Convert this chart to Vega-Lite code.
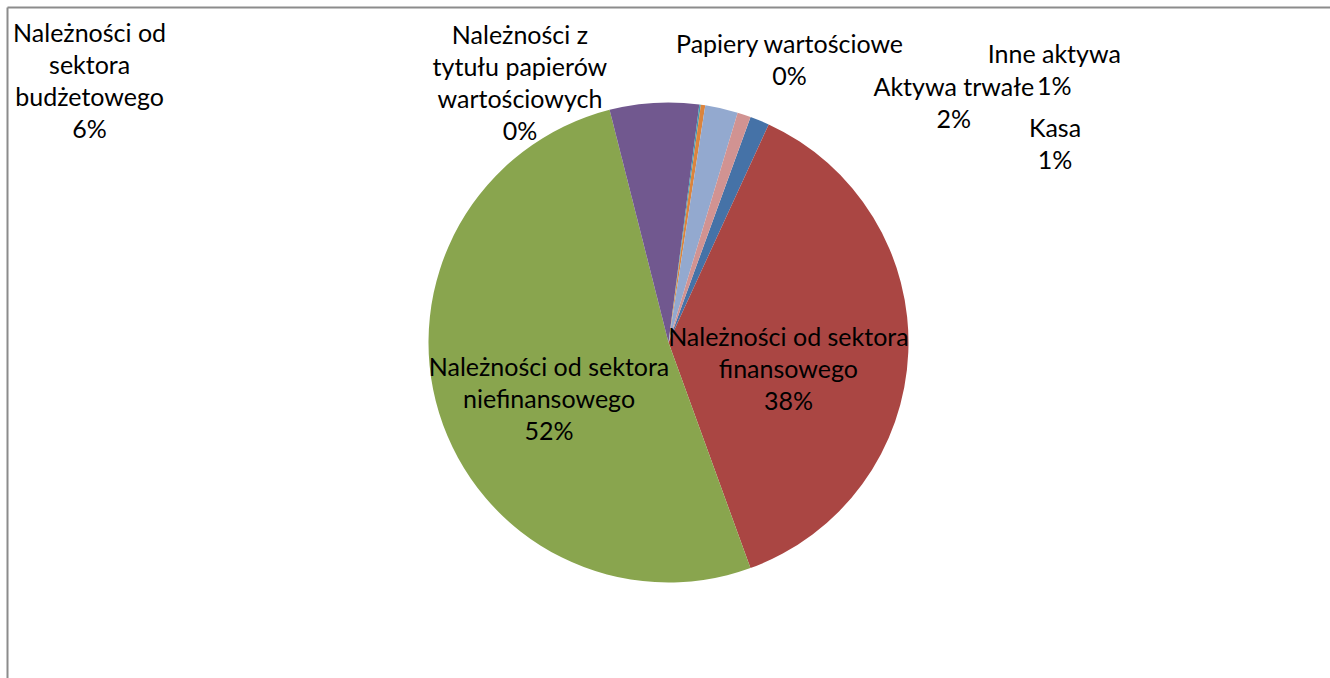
{
  "$schema": "https://vega.github.io/schema/vega-lite/v6.json",
  "width": 1323,
  "height": 671,
  "autosize": {"type": "none"},
  "padding": {"left": 7, "top": 7, "right": 0, "bottom": 0},
  "background": "white",
  "config": {"view": {"stroke": null}, "text": {"font": "Lato", "fontSize": 25, "lineHeight": 32, "lineBreak": "\n", "color": "#000000", "align": "center", "baseline": "middle"}},
  "data": {"values": [
    {"k": "Kasa", "value": 1.3, "ord": 1, "label": "Kasa\n1%"},
    {"k": "Należności od sektora finansowego", "value": 37.6, "ord": 2, "label": "Należności od sektora\nfinansowego\n38%"},
    {"k": "Należności od sektora niefinansowego", "value": 51.6, "ord": 3, "label": "Należności od sektora\nniefinansowego\n52%"},
    {"k": "Należności od sektora budżetowego", "value": 6.0, "ord": 4, "label": "Należności od\nsektora\nbudżetowego\n6%"},
    {"k": "Należności z tytułu papierów wartościowych", "value": 0.1, "ord": 5, "label": "Należności z\ntytułu papierów\nwartościowych\n0%"},
    {"k": "Papiery wartościowe", "value": 0.3, "ord": 6, "label": "Papiery wartościowe\n0%"},
    {"k": "Aktywa trwałe", "value": 2.2, "ord": 7, "label": "Aktywa trwałe\n2%"},
    {"k": "Inne aktywa", "value": 0.9, "ord": 8, "label": "Inne aktywa\n1%"}
  ]},
  "layer": [
    {
      "mark": {"type": "point", "opacity": 0},
      "encoding": {
        "x": {"field": "value", "type": "quantitative", "axis": {"orient": "top", "domain": true, "domainColor": "#8c8c8c", "domainWidth": 2, "ticks": false, "labels": false, "grid": false, "title": null}},
        "y": {"field": "value", "type": "quantitative", "axis": {"orient": "left", "domain": true, "domainColor": "#8c8c8c", "domainWidth": 2, "ticks": false, "labels": false, "grid": false, "title": null}}
      }
    },
    {
      "mark": {"type": "arc", "outerRadius": 240, "stroke": null},
      "encoding": {
        "theta": {"field": "value", "type": "quantitative", "stack": true, "scale": {"range": [0.349, 6.632]}},
        "order": {"field": "ord", "type": "quantitative"},
        "color": {"field": "k", "type": "nominal", "legend": null, "scale": {
          "domain": ["Kasa", "Należności od sektora finansowego", "Należności od sektora niefinansowego", "Należności od sektora budżetowego", "Należności z tytułu papierów wartościowych", "Papiery wartościowe", "Aktywa trwałe", "Inne aktywa"],
          "range": ["#4572A7", "#AA4643", "#89A54E", "#71588F", "#4198AF", "#DB843D", "#93A9CF", "#D19392"]}}
      }
    },
    {
      "mark": {"type": "text", "radius": 125, "dx": -5, "dy": -10},
      "encoding": {
        "theta": {"field": "value", "type": "quantitative", "stack": true},
        "order": {"field": "ord", "type": "quantitative"},
        "text": {"condition": {"test": "datum.ord == 2", "field": "label"}, "value": ""}
      }
    },
    {
      "mark": {"type": "text", "radius": 125, "dx": 0, "dy": -11},
      "encoding": {
        "theta": {"field": "value", "type": "quantitative", "stack": true},
        "order": {"field": "ord", "type": "quantitative"},
        "text": {"condition": {"test": "datum.ord == 3", "field": "label"}, "value": ""}
      }
    },
    {
      "mark": {"type": "text", "radius": 250, "dx": -564, "dy": -58.5},
      "encoding": {
        "theta": {"field": "value", "type": "quantitative", "stack": true},
        "order": {"field": "ord", "type": "quantitative"},
        "text": {"condition": {"test": "datum.ord == 4", "field": "label"}, "value": ""}
      }
    },
    {
      "mark": {"type": "text", "radius": 250, "dx": -181.5, "dy": -59},
      "encoding": {
        "theta": {"field": "value", "type": "quantitative", "stack": true},
        "order": {"field": "ord", "type": "quantitative"},
        "text": {"condition": {"test": "datum.ord == 5", "field": "label"}, "value": ""}
      }
    },
    {
      "mark": {"type": "text", "radius": 250, "dx": 85, "dy": -50},
      "encoding": {
        "theta": {"field": "value", "type": "quantitative", "stack": true},
        "order": {"field": "ord", "type": "quantitative"},
        "text": {"condition": {"test": "datum.ord == 6", "field": "label"}, "value": ""}
      }
    },
    {
      "mark": {"type": "text", "radius": 250, "dx": 230, "dy": -10.5},
      "encoding": {
        "theta": {"field": "value", "type": "quantitative", "stack": true},
        "order": {"field": "ord", "type": "quantitative"},
        "text": {"condition": {"test": "datum.ord == 7", "field": "label"}, "value": ""}
      }
    },
    {
      "mark": {"type": "text", "radius": 250, "dx": 307, "dy": -50},
      "encoding": {
        "theta": {"field": "value", "type": "quantitative", "stack": true},
        "order": {"field": "ord", "type": "quantitative"},
        "text": {"condition": {"test": "datum.ord == 8", "field": "label"}, "value": ""}
      }
    },
    {
      "mark": {"type": "text", "radius": 250, "dx": 291.5, "dy": 18},
      "encoding": {
        "theta": {"field": "value", "type": "quantitative", "stack": true},
        "order": {"field": "ord", "type": "quantitative"},
        "text": {"condition": {"test": "datum.ord == 1", "field": "label"}, "value": ""}
      }
    }
  ]
}
